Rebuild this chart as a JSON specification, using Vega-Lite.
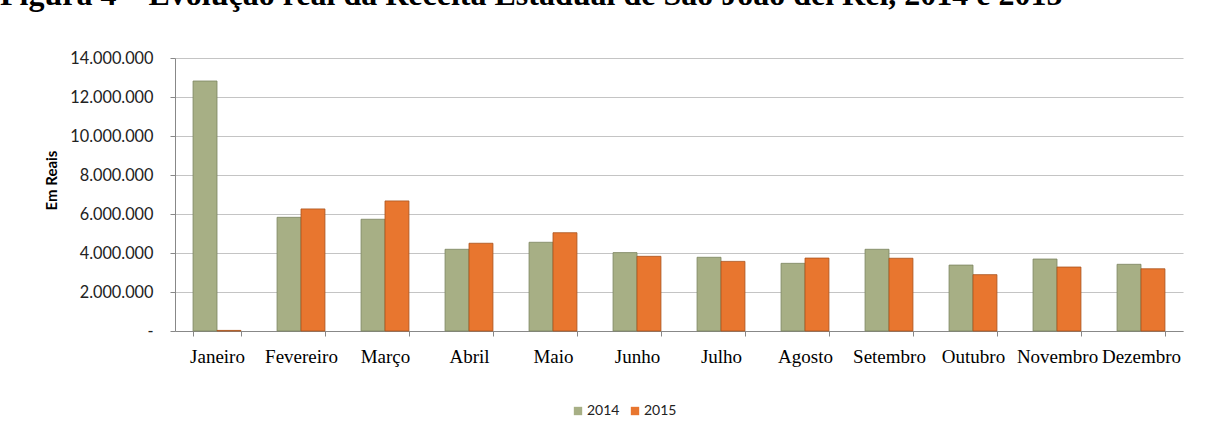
{
  "$schema": "https://vega.github.io/schema/vega-lite/v6.json",
  "width": 1008,
  "height": 273,
  "autosize": {"type": "none"},
  "padding": {"left": 175, "top": 58, "right": 35, "bottom": 103},
  "background": "white",
  "title": {
    "text": "Figura 4 – Evolução real da Receita Estadual de São João del Rei, 2014 e 2015",
    "anchor": "start",
    "frame": "group",
    "font": "Liberation Serif",
    "fontSize": 32,
    "fontWeight": "bold",
    "color": "black",
    "baseline": "alphabetic",
    "offset": 0,
    "limit": 1200,
    "dx": -175,
    "dy": -13
  },
  "data": {
    "values": [
      {"mes": "Janeiro", "ano": "2014", "valor": 12820000},
      {"mes": "Janeiro", "ano": "2015", "valor": 30000},
      {"mes": "Fevereiro", "ano": "2014", "valor": 5830000},
      {"mes": "Fevereiro", "ano": "2015", "valor": 6260000},
      {"mes": "Março", "ano": "2014", "valor": 5730000},
      {"mes": "Março", "ano": "2015", "valor": 6670000},
      {"mes": "Abril", "ano": "2014", "valor": 4190000},
      {"mes": "Abril", "ano": "2015", "valor": 4500000},
      {"mes": "Maio", "ano": "2014", "valor": 4550000},
      {"mes": "Maio", "ano": "2015", "valor": 5040000},
      {"mes": "Junho", "ano": "2014", "valor": 4020000},
      {"mes": "Junho", "ano": "2015", "valor": 3830000},
      {"mes": "Julho", "ano": "2014", "valor": 3780000},
      {"mes": "Julho", "ano": "2015", "valor": 3570000},
      {"mes": "Agosto", "ano": "2014", "valor": 3470000},
      {"mes": "Agosto", "ano": "2015", "valor": 3740000},
      {"mes": "Setembro", "ano": "2014", "valor": 4190000},
      {"mes": "Setembro", "ano": "2015", "valor": 3730000},
      {"mes": "Outubro", "ano": "2014", "valor": 3380000},
      {"mes": "Outubro", "ano": "2015", "valor": 2890000},
      {"mes": "Novembro", "ano": "2014", "valor": 3690000},
      {"mes": "Novembro", "ano": "2015", "valor": 3280000},
      {"mes": "Dezembro", "ano": "2014", "valor": 3420000},
      {"mes": "Dezembro", "ano": "2015", "valor": 3190000}
    ]
  },
  "mark": {"type": "bar", "strokeWidth": 1, "strokeOpacity": 0.8},
  "encoding": {
    "x": {
      "field": "mes",
      "type": "nominal",
      "sort": null,
      "scale": {"paddingInner": 0.43, "paddingOuter": 0.215},
      "axis": {
        "title": null,
        "labelAngle": 0,
        "labelFont": "Liberation Serif",
        "labelFontSize": 19,
        "labelColor": "black",
        "labelPadding": 11,
        "labelLimit": 200,
        "labelOverlap": false,
        "tickBand": "extent",
        "tickSize": 5,
        "tickColor": "#888888",
        "domainColor": "#888888",
        "grid": false
      }
    },
    "xOffset": {"field": "ano", "type": "nominal"},
    "y": {
      "field": "valor",
      "type": "quantitative",
      "scale": {"domain": [0, 14000000], "nice": false},
      "axis": {
        "values": [0, 2000000, 4000000, 6000000, 8000000, 10000000, 12000000, 14000000],
        "labelExpr": "datum.value == 0 ? '-  ' : replace(format(datum.value, ','), regexp(',', 'g'), '.')",
        "labelFont": "Lato",
        "labelFontSize": 16.3,
        "labelColor": "#222222",
        "labelPadding": 17,
        "tickSize": 5,
        "tickColor": "#888888",
        "domainColor": "#888888",
        "gridColor": "#c4c4c4",
        "gridWidth": 1.2,
        "title": "Em Reais",
        "titleFont": "Lato",
        "titleFontSize": 15,
        "titleFontWeight": "bold",
        "titleColor": "black",
        "titleAngle": 270,
        "titleAlign": "center",
        "titleBaseline": "middle",
        "titleX": -124,
        "titleY": 122
      }
    },
    "color": {
      "field": "ano",
      "type": "nominal",
      "scale": {"domain": ["2014", "2015"], "range": ["#a7af85", "#e8762f"]},
      "legend": {
        "title": null,
        "orient": "none",
        "legendX": 396,
        "legendY": 346,
        "direction": "horizontal",
        "symbolType": "square",
        "symbolSize": 70,
        "symbolStrokeWidth": 0,
        "labelFont": "Lato",
        "labelFontSize": 14,
        "labelColor": "#222222",
        "labelOffset": 2,
        "columnPadding": 8
      }
    },
    "stroke": {
      "field": "ano",
      "type": "nominal",
      "scale": {"domain": ["2014", "2015"], "range": ["#7c8460", "#a9521d"]},
      "legend": null
    }
  },
  "config": {
    "view": {"stroke": null}
  }
}
